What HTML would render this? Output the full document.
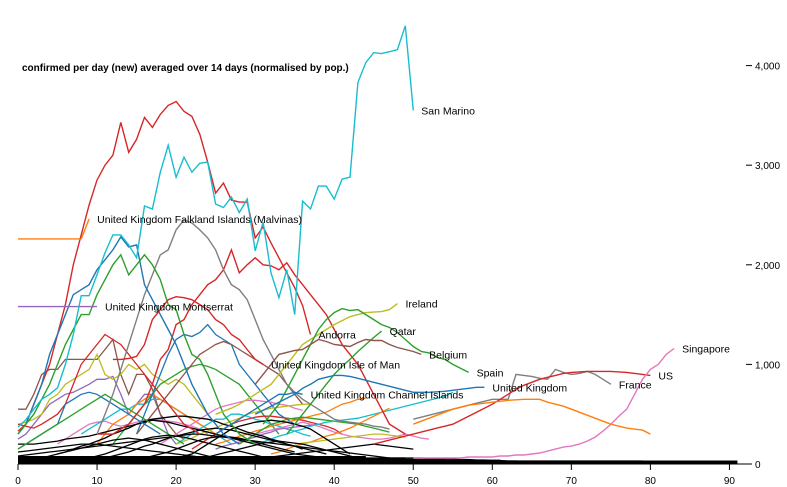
<!DOCTYPE html>
<html><head><meta charset="utf-8">
<style>
body{margin:0;background:#fff;}
svg{display:block;font-family:"Liberation Sans",Arial,sans-serif;}
</style></head>
<body>
<svg id="chart" width="787" height="487"></svg>
<script>
const xTicks=[0,10,20,30,40,50,60,70,80,90];
const yTicks=[0,1000,2000,3000,4000];
const yTickLabels=["0","1,000","2,000","3,000","4,000"];
const sanMarino=[370,445,550,650,700,765,1000,1300,1690,1690,1900,2120,2300,2300,2200,2070,2590,2560,2930,3200,2880,3080,2930,3020,3030,2610,2575,2680,2525,2660,2140,2430,1920,1670,1950,1500,2640,2560,2790,2790,2660,2860,2880,3830,4030,4130,4120,4140,4160,4400,3550];
const andorra=[330,400,600,800,1000,1300,1600,2000,2300,2600,2850,3000,3100,3430,3130,3260,3480,3380,3510,3600,3640,3540,3490,3310,3030,2720,2820,2650,2630,2630,2270,2380,2220,2070,1920,1770,1590,1300];
const redB=[300,300,300,350,400,500,600,800,1050,1150,1400,1450,1600,1700,1800,1850,1950,2150,1920,2000,2070,2000,1990,1950,2020,1900,1800,1700,1600,1500,1350,1200,1100,1000,850,700,550,400,350,300];
const grayA=[300,500,700,950,1200,1450,1700,1900,2100,2150,2350,2450,2420,2350,2270,2150,1950,1800,1750,1650,1450,1250,1100,950,800,720,650,600,550,500,450,430,420,410,400,380,370,350];
const blueA=[300,400,600,800,1100,1300,1500,1700,1750,1800,1950,2050,2150,2280,2180,2200,1800,1650,1500,1350,1200,1000,800,650,500,400,300,250,200];
const greenA=[300,400,500,650,800,1000,1200,1350,1500,1500,1700,1850,2000,2100,1900,2000,2100,2000,1850,1600,1550,1300,1100,1050,900,700,500,400,300,250,200];
const montserrat=[1580,1580,1580,1580,1580,1580,1580,1580,1580,1580,1580];
const falklands=[2260,2260,2260,2260,2260,2260,2260,2260,2260,2460];
const ireland=[500,530,560,600,650,700,750,800,900,1000,1100,1200,1250,1300,1350,1400,1440,1480,1500,1520,1525,1530,1550,1610];
const spain=[400,500,600,750,900,1050,1200,1350,1450,1520,1560,1540,1550,1500,1450,1400,1370,1320,1250,1180,1130,1115,1070,1050,1000,960,920];
const qatar=[300,400,500,600,700,800,900,980,1050,1130,1200,1270,1335];
const belgium=[800,900,1000,1100,1120,1140,1150,1200,1250,1230,1200,1190,1180,1220,1250,1240,1240,1200,1170,1150,1130,1100];
const uk=[500,540,580,620,660,700,760,800,850,870,890,890,880,860,840,820,800,780,760,740,720,720,720,725,730,740,750,760,770,770];
const france=[450,470,490,510,530,550,570,590,610,630,650,650,650,900,890,880,860,850,950,920,900,910,930,900,850,800];
const us=[200,220,240,260,280,300,320,340,360,380,400,440,480,520,560,600,650,700,750,790,820,850,870,890,910,920,925,930,930,930,930,925,920,910,900,890];
const singapore=[60,60,60,60,60,60,60,70,70,70,70,80,80,90,90,100,110,130,150,170,180,200,230,270,330,400,480,550,700,850,950,1000,1100,1160];
const quebecOrange=[400,430,460,490,520,550,570,590,600,610,620,630,640,645,650,650,650,620,600,580,550,520,490,460,430,400,380,360,350,340,300];
const isleOfMan=[1050,1050,1060,1080,1200,1450,1550,1650,1680,1670,1650,1600,1550,1450,1400,1300,1250,1150,1050,1000];
const channel=[300,350,400,450,500,550,600,650,700,700,720,700];
const series=[
 ["andorra","#d62728",0,andorra,"Andorra"],
 ["red-b","#d62728",10,redB,null],
 ["gray-a","#7f7f7f",10,grayA,null],
 ["blue-a","#1f77b4",0,blueA,null],
 ["green-a","#2ca02c",0,greenA,null],
 ["montserrat","#9467bd",0,montserrat,"United Kingdom Montserrat"],
 ["falklands","#ff7f0e",0,falklands,"United Kingdom Falkland Islands (Malvinas)"],
 ["ireland","#bcbd22",25,ireland,"Ireland"],
 ["spain","#2ca02c",31,spain,"Spain"],
 ["qatar","#2ca02c",34,qatar,"Qatar"],
 ["belgium","#8c564b",30,belgium,"Belgium"],
 ["united-kingdom","#1f77b4",30,uk,"United Kingdom"],
 ["france","#7f7f7f",50,france,"France"],
 ["us","#d62728",45,us,"US"],
 ["singapore","#e377c2",50,singapore,"Singapore"],
 ["orange-b","#ff7f0e",50,quebecOrange,null],
 ["isle-of-man","#d62728",12,isleOfMan,"United Kingdom Isle of Man"],
 ["channel-islands","#1f77b4",25,channel,"United Kingdom Channel Islands"],
 ["san-marino","#17becf",0,sanMarino,"San Marino"]
];
const bgStarts=[0,0,0,5,8,10,12,15,15,18,20,20,22,25,25,28,30,30,32,35,0,0,5,10,20,30,40,0,0,0,0,3,8,15,22];
const bgColors=["#9467bd","#8c564b","#bcbd22","#e377c2","#17becf","#ff7f0e","#2ca02c","#1f77b4","#8c564b","#e377c2","#17becf","#bcbd22","#d62728","#ff7f0e","#9467bd","#2ca02c","#17becf","#e377c2","#ff7f0e","#bcbd22","#000","#000","#000","#000","#000","#000","#000","#d62728","#1f77b4","#2ca02c","#000","#000","#000","#000","#000"];
const bgValues=[
 [250,300,400,500,600,650,700,720,760,800,850,850,880,700,500,600,700,700,500,300,200],
 [550,550,700,900,950,950,1050,1050,1050,1050,1050,1150,1250,900,700,900,900,750,500,400,300,250],
 [400,420,450,500,650,700,800,850,900,950,1100,900,850,900,1000,950,1000,900,850,800,850,800,700,600,500,400],
 [200,250,300,350,400,420,430,400,380,400,420,440,450,440,430,420,400,380,350,300],
 [300,350,400,450,500,550,550,600,600,650,650,600,550,500,450,400,350,300,250,200],
 [200,300,400,450,500,600,650,700,650,600,550,500,450,400,350,300,280,260,240,220],
 [200,300,400,500,600,700,800,850,900,950,980,1000,980,950,900,850,800,700,600,500,400,300],
 [300,500,700,900,1100,1250,1300,1280,1320,1400,1300,1250,1200,1000,900,800,700,600,500,450,400],
 [300,400,500,600,700,800,900,1000,1100,1150,1200,1230,1200,1150,1100,1050,1000,950,900,800,700,600],
 [200,250,300,350,400,450,500,550,580,600,620,640,640,630,620,600,590,560,540],
 [200,250,300,350,400,450,450,500,500,480,450,430,400,380,350,330,300,280],
 [200,230,260,300,330,360,400,430,460,500,520,540,560,570,580,590,600,600],
 [150,200,250,300,350,400,430,450,470,480,480,470,460,450,440,420,400,380,350,300],
 [200,220,250,280,300,330,350,380,400,420,440,460,480,500,520,560,600,620,650,660],
 [150,180,200,220,250,270,300,320,350,360,370,380,390,400],
 [200,250,300,350,400,420,450,460,470,460,450,440,430,420,410,400,380,360,340,320],
 [200,220,250,280,300,330,350,380,400,420,430,440,450,460,480,500,520,540,560,580,600,620,640,660,680,720],
 [300,320,340,360,380,400,420,400,380,350,320,300,280,270,260,250,250,260,280,300,280,260,250],
 [100,120,150,180,200,220,250,280,300,330,360,400,440,480,520,560],
 [200,210,220,230,240,250,260,270,280,290,300,300,290,280,270],
 [200,200,200,210,220,230,250,260,270,280,300,320,340,360,380,400,420,440,430,420,400,380,360,340,320,300,280,260,240,220,200,180,160,140,120,100,90,80,70,60,60,50],
 [80,90,100,110,120,130,140,150,160,170,180,190,200,210,220,230,240,250,260,270,280,290,300,300,290,280,270,260,250,240,230,220,210,200,190,180,170,160,150,140,130,120,110,100,90,80,70,60,50],
 [100,120,150,180,200,230,260,300,330,360,400,430,450,460,470,480,480,470,460,450,430,400,380,350,320,300,280,250,230,200,180,150],
 [50,60,80,100,120,150,180,200,230,260,280,300,320,340,350,360,350,340,320,300,280,260,240,220,200,180,160,140,120,100],
 [50,80,100,150,200,250,300,350,380,400,420,430,440,430,420,400,380,350,300,250,200,150,100],
 [50,60,70,80,90,100,110,120,130,140,150,160,170,180,190,200,190,180,170,160,150],
 [50,50,50,50,55,55,55,60,60,60,60,60,55,55,50,50,45,45,40,40,35,35,30,30,25,25,20,20,20,20,20,20,20,20,20,20,20,20,20,20,20,20,20,20,20,20,20,20,20,20,20,20],
 [400,380,360,400,450,500,600,800,1000,1100,1200,1300,1250,1200,1100,1000,900,800,700,600,500,400,350,300],
 [150,200,250,300,350,400,600,650,700,720,700,650,600,550,500,450,400,350,300],
 [150,200,250,300,350,400,450,500,550,600,650,700,650,600,550,500,450,400,350,300,250,200],
 [120,130,140,150,160,170,180,190,200,200,200,190,180,170,160,150,140,130,120,110,100,90,80,70,60,50],
 [60,80,100,120,140,160,180,200,220,240,250,260,250,240,220,200,180,160,140,120,100,80,60],
 [40,60,80,100,130,160,190,220,250,270,280,290,280,270,250,230,210,190,170,150,130,110,90,70],
 [40,60,80,100,120,150,180,210,240,260,270,280,270,260,240,220,200,180,160,140,120],
 [30,50,70,90,110,130,150,170,190,210,220,230,220,210,200,180,160,140,120,100,80,60]
];
const floorBlack=[20,20,20,20,20,20,20,20,20,20,20,20,20,20,20,20,20,20,20,20,20,20,20,20,20,20,20,20,20,20,20,20,20,20,20,20,20,20,20,20,20,20,20,20,20,20,20,20,20,20,20,20,20,20,20,20,20,20,20,20,20,20,20,20,20,20,20,20,20,20,20,20,20,20,20,20,20,20,20,20,20,20,20,20,20,20,20,20,20,20,20,20];
const floorOffsets=[0,6,14,24,36,50];
const floorLengths=[93,80,62,55,50,45];

const X0=18,PX=7.905,Y0=464,PY=0.0996;
const sx=d=>X0+d*PX, sy=v=>Y0-v*PY;
const NS="http://www.w3.org/2000/svg";
const svg=document.getElementById('chart');
function mk(tag,attrs,parent){const e=document.createElementNS(NS,tag);for(const k in attrs)e.setAttribute(k,attrs[k]);(parent||svg).appendChild(e);return e;}
function pathD(start,vals){return vals.map((v,i)=>(i?'L':'M')+sx(start+i).toFixed(1)+','+sy(v).toFixed(1)).join('');}

const gLines=mk('g',{});


bgValues.forEach((vals,i)=>{
  const p=mk('path',{d:pathD(bgStarts[i],vals),fill:'none',stroke:bgColors[i],'stroke-width':1.3},gLines);
  
  
});
floorOffsets.forEach((off,k)=>{
  const vals=floorBlack.slice(0,floorLengths[k]).map(v=>v+off);
  const p=mk('path',{d:pathD(0,vals),fill:'none',stroke:'#000','stroke-width':k===0?3:2},gLines);
  
  
});
series.forEach(s=>{
  const [name,color,start,vals,label]=s;
  const p=mk('path',{d:pathD(start,vals),fill:'none',stroke:color,'stroke-width':1.4},gLines);
  
  
  if(label){
    const last=vals.length-1;
    const t=mk('text',{x:sx(start+last)+8,y:sy(vals[last])+4,'font-size':10.5,fill:'#000'});
    t.textContent=label;
    
    
  }
});

const xa=mk('g',{});


mk('line',{x1:X0,x2:746,y1:Y0,y2:Y0,stroke:'#000'},xa);
xTicks.forEach(t=>{
  mk('line',{x1:sx(t),x2:sx(t),y1:Y0,y2:Y0+6,stroke:'#000'},xa);
  const tx=mk('text',{x:sx(t),y:Y0+20,'font-size':10,'text-anchor':'middle',fill:'#000'},xa);
  tx.textContent=t;
  
  
});
const ya=mk('g',{});


yTicks.forEach((t,i)=>{
  mk('line',{x1:746,x2:752,y1:sy(t),y2:sy(t),stroke:'#000'},ya);
  const tx=mk('text',{x:755,y:sy(t)+4,'font-size':10,fill:'#000'},ya);
  tx.textContent=yTickLabels[i];
  
  
});
const title=mk('text',{x:22,y:71,'font-size':10,'font-weight':'bold',fill:'#000'});
title.textContent='confirmed per day (new) averaged over 14 days (normalised by pop.)';


</script>
</body></html>
